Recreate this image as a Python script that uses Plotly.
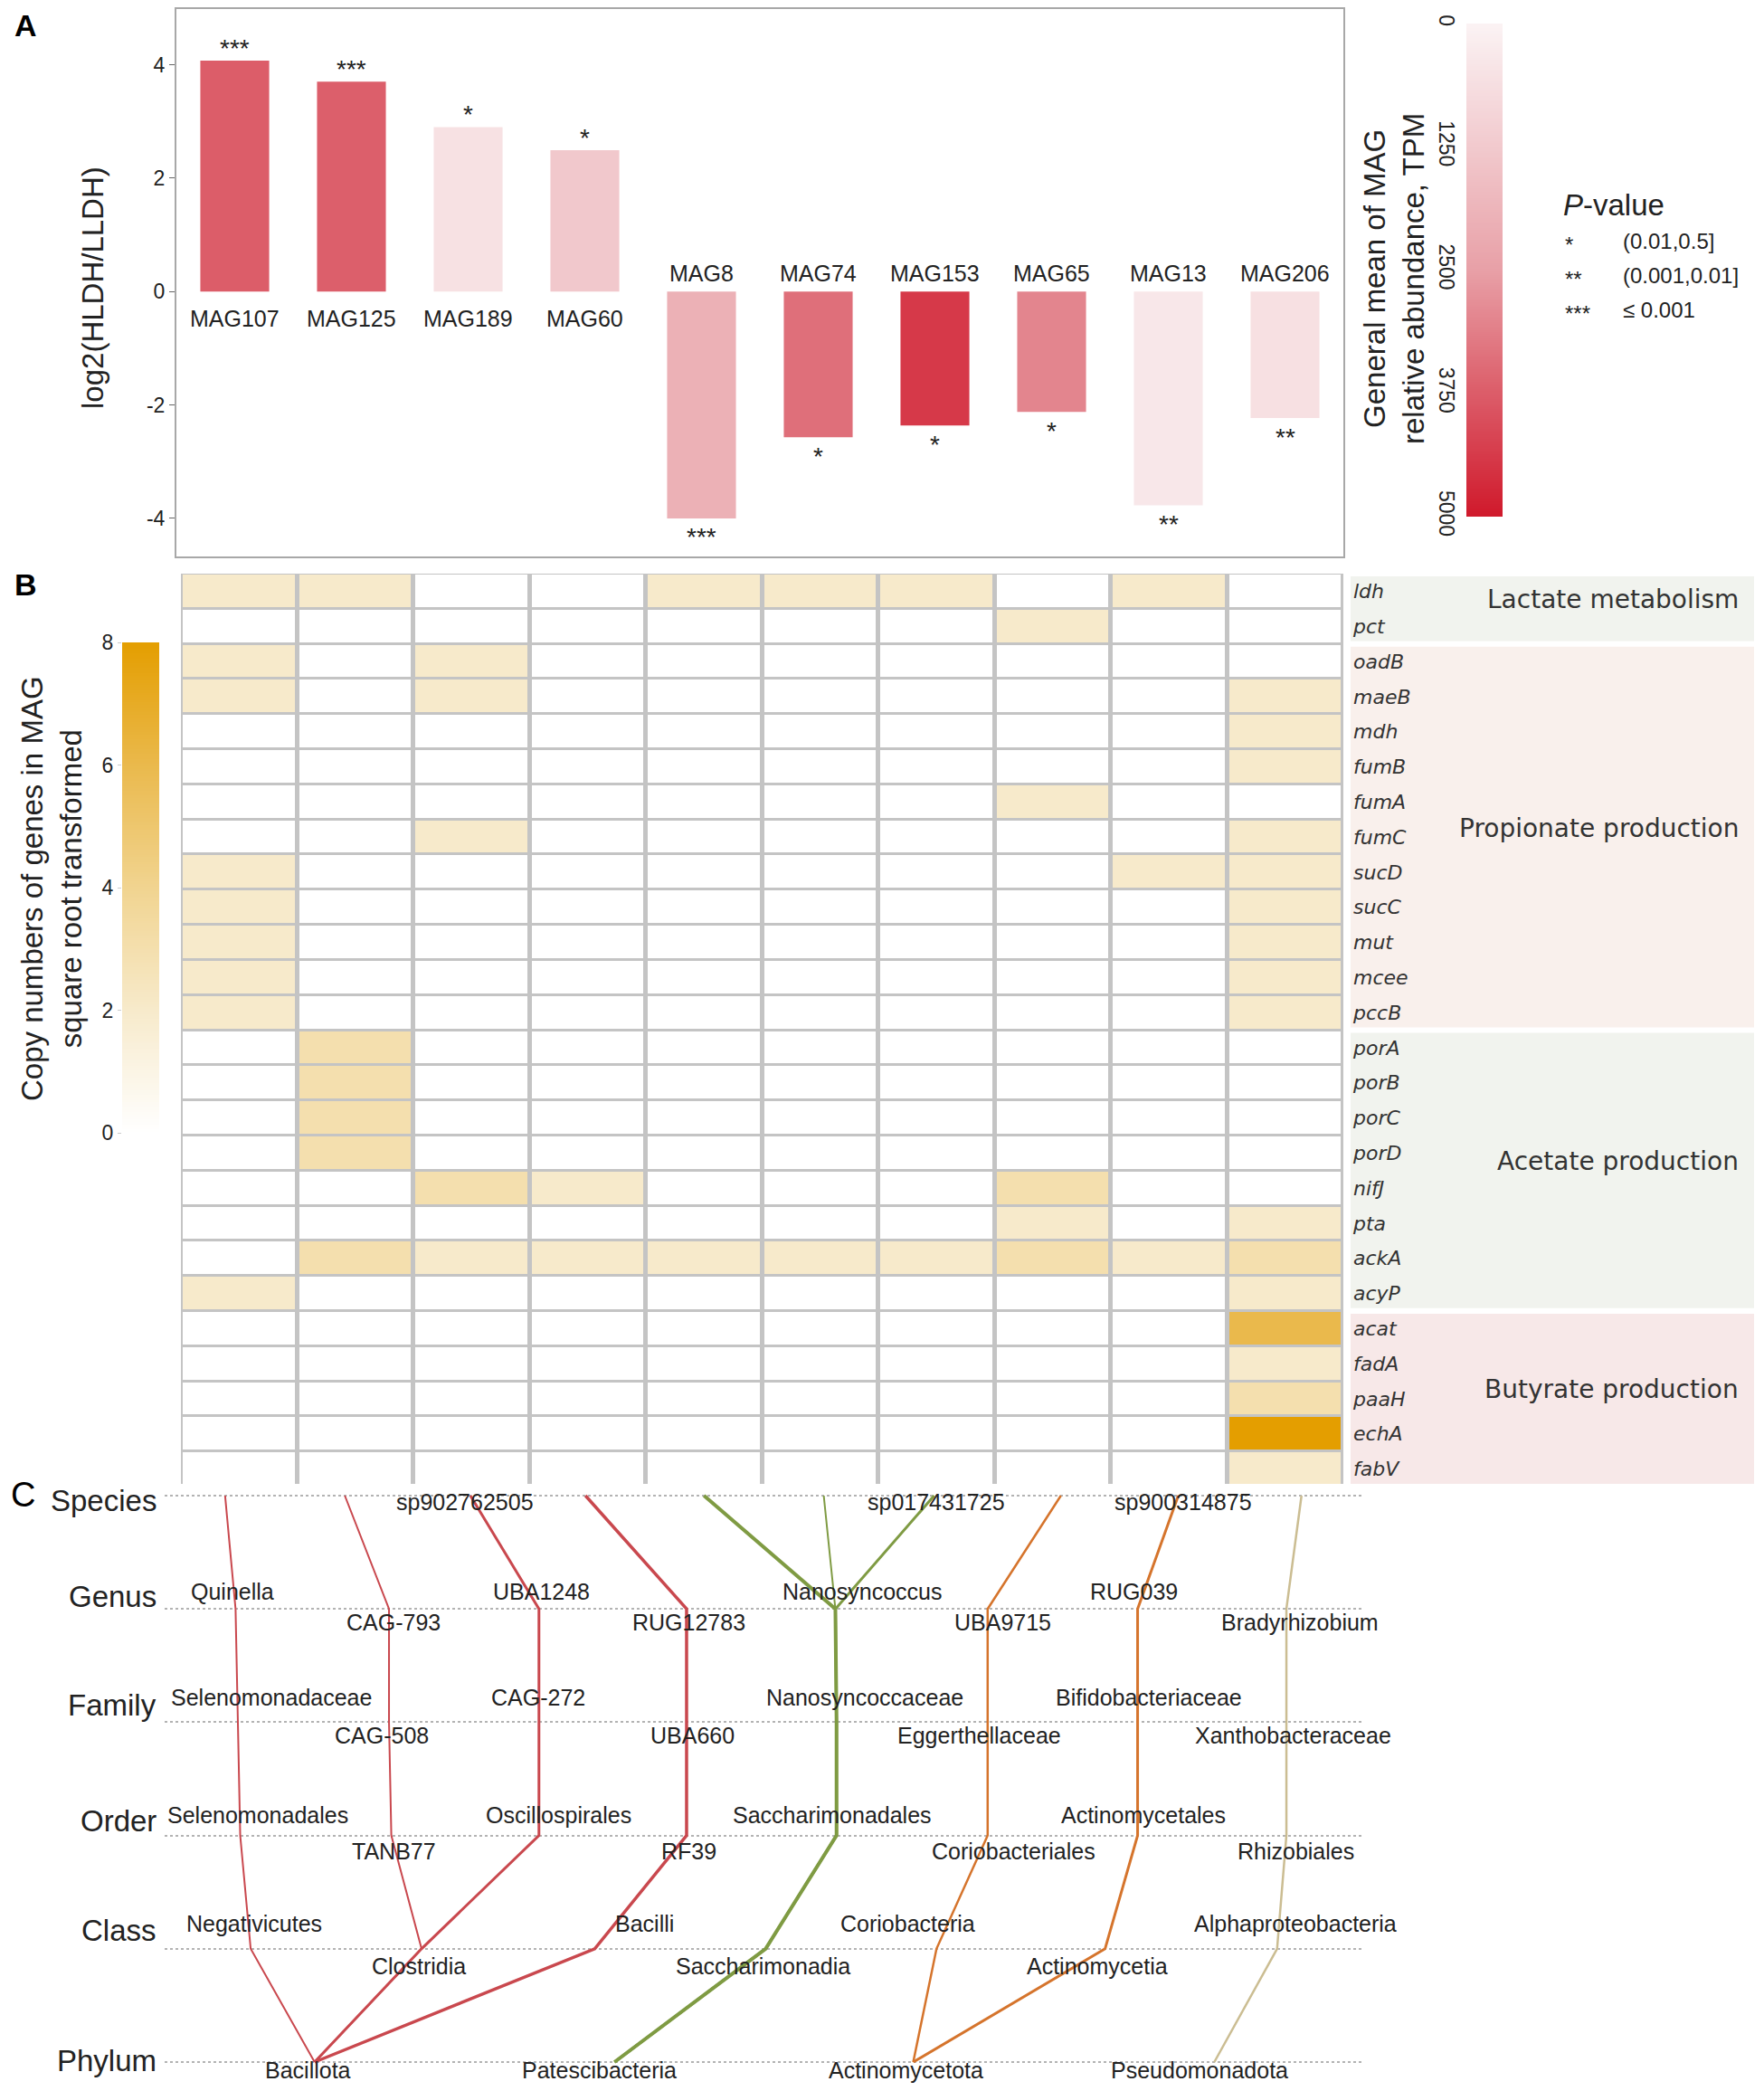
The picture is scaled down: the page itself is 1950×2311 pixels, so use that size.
import numpy as np
import plotly.graph_objects as go

W, H = 1950, 2311
def px(x): return x / W
def py(y): return 1 - y / H

FONT = "Liberation Sans, Arial, sans-serif"
VFONT = "DejaVu Sans, Verdana, sans-serif"
TXT = "#222222"

# ---------------- Panel A data ----------------
mags = ["MAG107", "MAG125", "MAG189", "MAG60", "MAG8", "MAG74", "MAG153", "MAG65", "MAG13", "MAG206"]
log2_ratio = [4.07, 3.70, 2.90, 2.49, -4.00, -2.57, -2.36, -2.12, -3.77, -2.23]
abundance_tpm = [3750, 3700, 550, 1300, 2000, 3400, 4400, 3000, 360, 575]
p_stars = ["***", "***", "*", "*", "***", "*", "*", "*", "**", "**"]
ratio_ticks = [-4, -2, 0, 2, 4]
ratio_ticktext = ["-4", "-2", "0", "2", "4"]
abund_ticks = [0, 1250, 2500, 3750, 5000]
pval_symbols = ["*", "**", "***"]
pval_ranges = ["(0.01,0.5]", "(0.001,0.01]", "≤ 0.001"]

# ---------------- Panel B data ----------------
genes = ["ldh", "pct", "oadB", "maeB", "mdh", "fumB", "fumA", "fumC", "sucD", "sucC", "mut", "mcee", "pccB",
         "porA", "porB", "porC", "porD", "nifJ", "pta", "ackA", "acyP", "acat", "fadA", "paaH", "echA", "fabV"]
group_names = ["Lactate metabolism", "Propionate production", "Acetate production", "Butyrate production"]
group_sizes = [2, 11, 8, 5]
copy_sqrt = [
    [2, 2, 0, 0, 2, 2, 2, 0, 2, 0],   # ldh
    [0, 0, 0, 0, 0, 0, 0, 2, 0, 0],   # pct
    [2, 0, 2, 0, 0, 0, 0, 0, 0, 0],   # oadB
    [2, 0, 2, 0, 0, 0, 0, 0, 0, 2],   # maeB
    [0, 0, 0, 0, 0, 0, 0, 0, 0, 2],   # mdh
    [0, 0, 0, 0, 0, 0, 0, 0, 0, 2],   # fumB
    [0, 0, 0, 0, 0, 0, 0, 2, 0, 0],   # fumA
    [0, 0, 2, 0, 0, 0, 0, 0, 0, 2],   # fumC
    [2, 0, 0, 0, 0, 0, 0, 0, 2, 2],   # sucD
    [2, 0, 0, 0, 0, 0, 0, 0, 0, 2],   # sucC
    [2, 0, 0, 0, 0, 0, 0, 0, 0, 2],   # mut
    [2, 0, 0, 0, 0, 0, 0, 0, 0, 2],   # mcee
    [2, 0, 0, 0, 0, 0, 0, 0, 0, 2],   # pccB
    [0, 3, 0, 0, 0, 0, 0, 0, 0, 0],   # porA
    [0, 3, 0, 0, 0, 0, 0, 0, 0, 0],   # porB
    [0, 3, 0, 0, 0, 0, 0, 0, 0, 0],   # porC
    [0, 3, 0, 0, 0, 0, 0, 0, 0, 0],   # porD
    [0, 0, 3, 2, 0, 0, 0, 3, 0, 0],   # nifJ
    [0, 0, 0, 0, 0, 0, 0, 2, 0, 2],   # pta
    [0, 3, 2, 2, 2, 2, 2, 3, 2, 3],   # ackA
    [2, 0, 0, 0, 0, 0, 0, 0, 0, 2],   # acyP
    [0, 0, 0, 0, 0, 0, 0, 0, 0, 6],   # acat
    [0, 0, 0, 0, 0, 0, 0, 0, 0, 2],   # fadA
    [0, 0, 0, 0, 0, 0, 0, 0, 0, 3],   # paaH
    [0, 0, 0, 0, 0, 0, 0, 0, 0, 8],   # echA
    [0, 0, 0, 0, 0, 0, 0, 0, 0, 2],   # fabV
]
copy_ticks = [0, 2, 4, 6, 8]

# ---------------- Panel C data ----------------
ranks = ["Species", "Genus", "Family", "Order", "Class", "Phylum"]
mag_phylum = ["Bacillota"] * 4 + ["Patescibacteria"] * 3 + ["Actinomycetota"] * 2 + ["Pseudomonadota"]
# x position (in MAG-column units) of each lineage at every rank
lineage_x = [
    [-0.12, -0.03, -0.01, 0.01, 0.10, 0.65],
    [0.91, 1.29, 1.29, 1.31, 1.57, 0.65],
    [1.99, 2.58, 2.58, 2.58, 1.57, 0.65],
    [2.98, 3.85, 3.85, 3.85, 3.06, 0.65],
    [4.00, 5.13, 5.14, 5.14, 4.53, 3.23],
    [5.03, 5.13, 5.14, 5.14, 4.53, 3.23],
    [5.98, 5.13, 5.14, 5.14, 4.53, 3.23],
    [7.07, 6.44, 6.44, 6.44, 6.00, 5.80],
    [8.08, 7.73, 7.73, 7.73, 7.45, 5.80],
    [9.14, 9.01, 9.01, 9.01, 8.93, 8.39],
]
lineage_width = [2, 2, 3, 3.5, 4, 2, 3, 2.5, 3, 2.5]
# taxon names: (name, rank index, x position, side: -1 above line, +1 below, 0 on)
taxon_labels = [
    ("sp902762505", 0, 1.94, 0), ("sp017431725", 0, 6.00, 0), ("sp900314875", 0, 8.12, 0),
    ("Quinella", 1, -0.06, -1), ("CAG-793", 1, 1.33, 1), ("UBA1248", 1, 2.60, -1), ("RUG12783", 1, 3.87, 1),
    ("Nanosyncoccus", 1, 5.36, -1), ("UBA9715", 1, 6.57, 1), ("RUG039", 1, 7.70, -1), ("Bradyrhizobium", 1, 9.13, 1),
    ("Selenomonadaceae", 2, 0.28, -1), ("CAG-508", 2, 1.23, 1), ("CAG-272", 2, 2.57, -1), ("UBA660", 2, 3.90, 1),
    ("Nanosyncoccaceae", 2, 5.38, -1), ("Eggerthellaceae", 2, 6.37, 1), ("Bifidobacteriaceae", 2, 7.83, -1),
    ("Xanthobacteraceae", 2, 9.07, 1),
    ("Selenomonadales", 3, 0.16, -1), ("TANB77", 3, 1.33, 1), ("Oscillospirales", 3, 2.75, -1), ("RF39", 3, 3.87, 1),
    ("Saccharimonadales", 3, 5.10, -1), ("Coriobacteriales", 3, 6.66, 1), ("Actinomycetales", 3, 7.78, -1),
    ("Rhizobiales", 3, 9.09, 1),
    ("Negativicutes", 4, 0.13, -1), ("Clostridia", 4, 1.55, 1), ("Bacilli", 4, 3.49, -1), ("Saccharimonadia", 4, 4.51, 1),
    ("Coriobacteria", 4, 5.75, -1), ("Actinomycetia", 4, 7.38, 1), ("Alphaproteobacteria", 4, 9.09, -1),
    ("Bacillota", 5, 0.59, 1), ("Patescibacteria", 5, 3.10, 1), ("Actinomycetota", 5, 5.74, 1), ("Pseudomonadota", 5, 8.26, 1),
]

# ---------------- styles ----------------
abund_cs = [[0, "#fbf3f4"], [0.5, "#e8a0a7"], [1, "#d0192b"]]
copy_cs = [[0, "#ffffff"], [0.25, "#f7eacb"], [0.5, "#f1d490"], [0.75, "#eab94c"], [1, "#e49e00"]]
phylum_color = {"Bacillota": "#c9484e", "Patescibacteria": "#7f9b43",
                "Actinomycetota": "#d5742c", "Pseudomonadota": "#cbbd92"}
group_fill = ["#f1f3ee", "#f9f0ec", "#f1f3ee", "#f7e8e8"]

fig = go.Figure()

# ---- Panel A bars
fig.add_trace(go.Bar(x=mags, y=log2_ratio, width=0.59,
                     marker=dict(color=abundance_tpm, colorscale=abund_cs, cmin=0, cmax=5000, line=dict(width=0)),
                     xaxis="x", yaxis="y", hoverinfo="skip", showlegend=False))
# ---- Panel A colour bar (custom, reversed: 0 on top)
lv_a = np.linspace(abund_ticks[0], abund_ticks[-1], 251)
fig.add_trace(go.Heatmap(x=[0], y=lv_a, z=lv_a[:, None], colorscale=abund_cs, zmin=0, zmax=5000,
                         showscale=False, xaxis="x2", yaxis="y2", hoverinfo="skip"))
# ---- Panel B heatmap
fig.add_trace(go.Heatmap(x=mags, y=genes, z=copy_sqrt, colorscale=copy_cs, zmin=0, zmax=8,
                         xgap=5, ygap=3, showscale=False, xaxis="x3", yaxis="y3", hoverinfo="skip"))
# ---- Panel B colour bar
lv_b = np.linspace(copy_ticks[0], copy_ticks[-1], 201)
fig.add_trace(go.Heatmap(x=[0], y=lv_b, z=lv_b[:, None], colorscale=copy_cs, zmin=0, zmax=8,
                         showscale=False, xaxis="x4", yaxis="y4", hoverinfo="skip"))
# ---- Panel C lineage lines
for i, xs in enumerate(lineage_x):
    fig.add_trace(go.Scatter(x=xs, y=list(range(len(ranks))), mode="lines",
                             line=dict(color=phylum_color[mag_phylum[i]], width=lineage_width[i]),
                             xaxis="x5", yaxis="y5", hoverinfo="skip", showlegend=False))

ann = []
def note(text, x, y, size, xref="paper", yref="paper", family=FONT, color=TXT, **kw):
    d = dict(text=text, x=x, y=y, xref=xref, yref=yref, showarrow=False,
             font=dict(size=size, family=family, color=color))
    d.setdefault("xanchor", "center")
    d.setdefault("yanchor", "middle")
    d.update(kw)
    ann.append(d)

# panel letters
note("<b>A</b>", px(14), py(28), 34, color="#000", xanchor="left")
note("<b>B</b>", px(14), py(646), 34, color="#000", xanchor="left")
note("C", px(10), py(1652), 38, color="#000", xanchor="left")

# Panel A labels
for m, v, s in zip(mags, log2_ratio, p_stars):
    note(m, m, 0, 25, xref="x", yref="y", yshift=-30 if v > 0 else 20)
    note(s, m, v, 28, xref="x", yref="y", yshift=14 if v > 0 else -21)
note("log2(HLDH/LLDH)", px(103), py(318), 33, textangle=-90)
note("General mean of MAG<br>relative abundance, TPM", px(1541), py(308), 33, textangle=-90)
# P-value legend
note("<i>P</i>-value", px(1726), py(226), 33, xanchor="left")
for k, (sym, rng) in enumerate(zip(pval_symbols, pval_ranges)):
    yy = py(266 + 38 * k)
    note(sym, px(1728), yy, 24, xanchor="left", yshift=-4)
    note(rng, px(1792), yy, 24, xanchor="left")

# Panel B groups
shapes = [dict(type="rect", xref="x3 domain", yref="y3 domain", x0=0, x1=1, y0=0, y1=1,
               fillcolor="#c4c4c4", line=dict(width=0), layer="below")]
start = 0
for name, n, fc in zip(group_names, group_sizes, group_fill):
    shapes.append(dict(type="rect", xref="paper", yref="y3", x0=px(1493), x1=px(1939),
                       y0=start - 0.5 + 0.08, y1=start + n - 0.5 - 0.08, fillcolor=fc, line=dict(width=0), layer="below"))
    note(name, px(1924), start + (n - 1) / 2, 28, yref="y3", family=VFONT, color="#333", xanchor="right", yshift=10)
    start += n
note("Copy numbers of genes in MAG<br>square root transformed", px(57), py(982), 33, textangle=-90)

# Panel C labels
rank_shift = [-5, 14, 19, 16, 20, 2]
for r, name in enumerate(ranks):
    note(name, px(175), r, 33, yref="y5", xanchor="right", yshift=rank_shift[r])
above_shift = [0, 19, 27, 23, 28, 0]
below_shift = [0, -15, -15, -17, -19, -9]
for name, r, xv, side in taxon_labels:
    if side < 0:
        sh = above_shift[r]
    elif side > 0:
        sh = below_shift[r]
    else:
        sh = -7
    note(name, xv, r, 25, xref="x5", yref="y5", yshift=sh)

axis_off = dict(visible=False, showgrid=False, zeroline=False, automargin=False)
u0 = (182 - 200) / 128.5 - 0.5
u1 = (1506 - 200) / 128.5 - 0.5
rank_px = (2279 - 1653) / 5
r_top = -(1653 - 1640) / rank_px
r_bot = 5 + (2300 - 2279) / rank_px

fig.update_layout(
    template="none",
    width=W, height=H, autosize=False, margin=dict(l=0, r=0, t=0, b=0, pad=0),
    paper_bgcolor="white", plot_bgcolor="white", showlegend=False,
    font=dict(family=FONT, color=TXT),
    xaxis=dict(domain=[px(195), px(1485)], range=[-0.5, 9.5], showticklabels=False, ticks="",
               showline=True, mirror=True, linecolor="#a8a8a8", linewidth=2, showgrid=False, zeroline=False,
               automargin=False),
    yaxis=dict(domain=[py(615), py(10)], range=[-4.67, 4.98], tickvals=ratio_ticks, ticktext=ratio_ticktext,
               ticks="outside", ticklen=6, tickcolor="#666", showline=True, mirror=True, linecolor="#a8a8a8",
               linewidth=2, showgrid=False, zeroline=False, tickfont=dict(size=23, family=FONT, color=TXT),
               automargin=False),
    xaxis2=dict(domain=[px(1621), px(1661)], range=[-0.5, 0.5], anchor="y2", **axis_off),
    yaxis2=dict(domain=[py(571), py(26)], range=[abund_ticks[-1], abund_ticks[0]], tickvals=abund_ticks,
                side="left", tickangle=90, ticks="", showline=False, showgrid=False, zeroline=False,
                ticklabelstandoff=6, tickfont=dict(size=23, family=FONT, color=TXT), anchor="x2",
                automargin=False),
    xaxis3=dict(domain=[px(200), px(1485)], range=[-0.5, 9.5], showticklabels=False, ticks="",
                showgrid=False, zeroline=False, showline=False, anchor="y3", automargin=False),
    yaxis3=dict(domain=[py(1643), py(634)], range=[len(genes) - 0.5, -0.5], side="right",
                tickvals=genes, ticktext=["<i>%s</i>" % g for g in genes], ticks="", ticklabelstandoff=10,
                showgrid=False, zeroline=False, showline=False,
                tickfont=dict(size=22, family=VFONT, color="#333"), anchor="x3", automargin=False),
    xaxis4=dict(domain=[px(135), px(176)], range=[-0.5, 0.5], anchor="y4", **axis_off),
    yaxis4=dict(domain=[py(1252), py(710)], range=[copy_ticks[0], copy_ticks[-1]], tickvals=copy_ticks,
                side="left", ticks="outside", ticklen=4, tickcolor="#cccccc", showline=False, showgrid=False,
                zeroline=False, tickfont=dict(size=23, family=FONT, color=TXT), anchor="x4", automargin=False),
    xaxis5=dict(domain=[px(182), px(1506)], range=[u0, u1], anchor="y5", **axis_off),
    yaxis5=dict(domain=[py(2300), py(1640)], range=[r_bot, r_top], tickvals=list(range(len(ranks))),
                showticklabels=False, ticks="", showgrid=True, gridcolor="#b3b3b3", griddash="dot",
                gridwidth=2, zeroline=False, showline=False, anchor="x5", automargin=False),
    annotations=ann, shapes=shapes,
)

fig.write_html("out.html")
